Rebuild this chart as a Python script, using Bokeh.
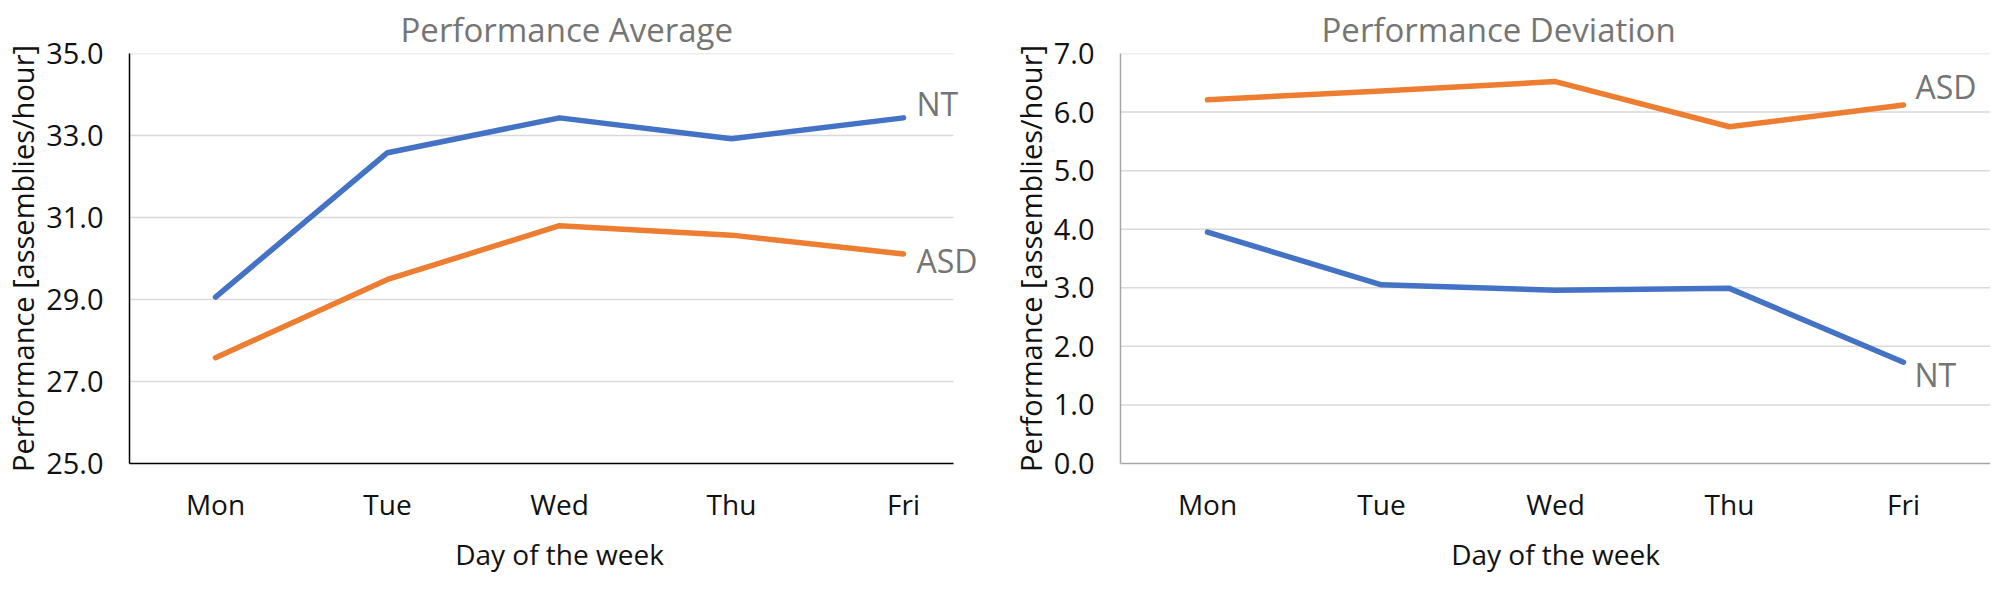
from bokeh.plotting import figure
from bokeh.layouts import row
from bokeh.models import Range1d, FixedTicker, NumeralTickFormatter, Label
from bokeh.embed import file_html
from bokeh.resources import INLINE

# values
days = ['Mon', 'Tue', 'Wed', 'Thu', 'Fri']
avg_nt = [29.06, 32.58, 33.43, 32.92, 33.43]
avg_asd = [27.58, 29.49, 30.80, 30.57, 30.11]
dev_nt = [3.95, 3.05, 2.96, 2.99, 1.73]
dev_asd = [6.21, 6.36, 6.52, 5.75, 6.12]
avg_ticks = [25, 27, 29, 31, 33, 35]
dev_ticks = [0, 1, 2, 3, 4, 5, 6, 7]

FONT = 'Open Sans'
BLUE = '#4472C4'
ORANGE = '#ED7D31'
GREY_TEXT = '#757575'
GRID = '#d9d9d9'


def make_panel(title, nt, asd, ticks, width, border_left, border_right,
               axis_color, title_offset, grid_end, nt_off, asd_off):
    xs = list(range(len(days)))
    p = figure(width=width, height=575,
               x_range=Range1d(-0.5, 4.5),
               y_range=Range1d(ticks[0], ticks[-1]),
               tools='', toolbar_location=None,
               min_border_left=border_left, min_border_right=border_right,
               min_border_top=53, min_border_bottom=109,
               background_fill_color='white', border_fill_color='white')
    p.output_backend = 'svg'
    p.outline_line_color = None

    p.title.text = title
    p.title.align = 'left'
    p.title.offset = title_offset
    p.title.standoff = 3
    p.title.text_font = FONT
    p.title.text_font_size = '33px'
    p.title.text_font_style = 'normal'
    p.title.text_color = GREY_TEXT

    # horizontal grid lines, only as wide as the chart area of the picture
    p.xgrid.grid_line_color = None
    p.ygrid.grid_line_color = None
    p.segment(x0=[-0.5] * (len(ticks) - 1), x1=[grid_end] * (len(ticks) - 1),
              y0=ticks[1:], y1=ticks[1:], line_color=GRID, line_width=1.5)

    p.xaxis.ticker = FixedTicker(ticks=xs)
    p.xaxis.major_label_overrides = {i: d for i, d in zip(xs, days)}
    p.xaxis.bounds = (-0.5, grid_end)
    p.yaxis.ticker = FixedTicker(ticks=ticks)
    p.yaxis.formatter = NumeralTickFormatter(format='0.0')

    for ax in (p.xaxis, p.yaxis):
        ax.axis_line_color = axis_color
        ax.axis_line_width = 1.5
        ax.major_tick_line_color = None
        ax.minor_tick_line_color = None
        ax.major_tick_out = 0
        ax.major_tick_in = 0
        ax.major_label_text_font = FONT
        ax.major_label_text_color = '#111111'
        ax.axis_label_text_font = FONT
        ax.axis_label_text_font_style = 'normal'
        ax.axis_label_text_color = '#111111'
    p.yaxis.major_label_text_font_size = '29px'
    p.yaxis.major_label_standoff = 26
    p.yaxis.axis_label = 'Performance [assemblies/hour]'
    p.yaxis.axis_label_text_font_size = '29px'
    p.yaxis.axis_label_standoff = 1
    p.xaxis.major_label_text_font_size = '28px'
    p.xaxis.major_label_standoff = 21
    p.xaxis.axis_label = 'Day of the week'
    p.xaxis.axis_label_text_font_size = '28px'
    p.xaxis.axis_label_standoff = 9

    p.line(xs, asd, line_color=ORANGE, line_width=5.5,
           line_cap='round', line_join='round')
    p.line(xs, nt, line_color=BLUE, line_width=5.5,
           line_cap='round', line_join='round')

    # series names next to the last point
    p.add_layout(Label(x=xs[-1], y=nt[-1], text='NT', x_offset=nt_off[0],
                       y_offset=nt_off[1], text_font=FONT, text_font_size='32px',
                       text_color=GREY_TEXT, text_baseline='middle'))
    p.add_layout(Label(x=xs[-1], y=asd[-1], text='ASD', x_offset=asd_off[0],
                       y_offset=asd_off[1], text_font=FONT, text_font_size='32px',
                       text_color=GREY_TEXT, text_baseline='middle'))
    return p


p1 = make_panel('Performance Average', avg_nt, avg_asd, avg_ticks,
                width=992, border_left=129, border_right=3,
                axis_color='#000000', title_offset=271, grid_end=4.29,
                nt_off=(13, 14), asd_off=(13, -7))
p2 = make_panel('Performance Deviation', dev_nt, dev_asd, dev_ticks,
                width=998, border_left=128, border_right=0,
                axis_color='#a6a6a6', title_offset=201, grid_end=4.5,
                nt_off=(11, -12), asd_off=(12, 19))

p = row(p1, p2)
open('out.html', 'w').write(file_html(p, INLINE))
